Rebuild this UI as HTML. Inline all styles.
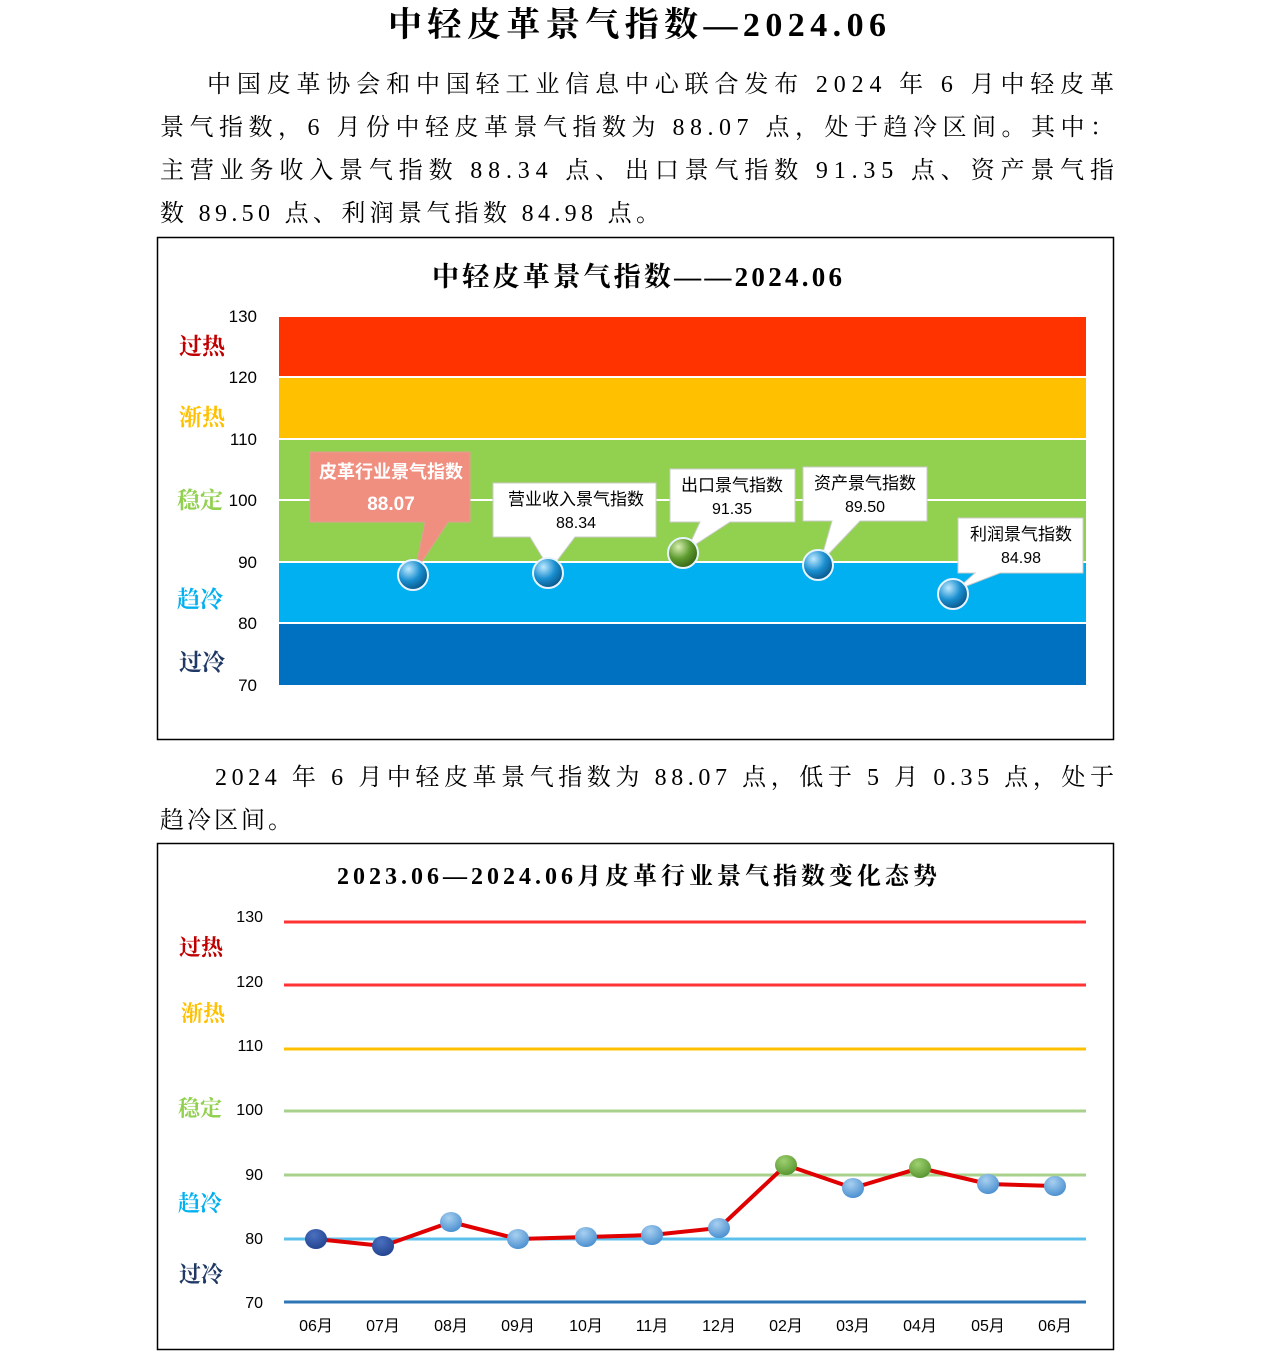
<!DOCTYPE html>
<html><head><meta charset="utf-8"><style>
body{margin:0;background:#fff}
svg text{font-family:"Liberation Serif","Noto Serif CJK SC",serif}
svg .s text, svg text.s{font-family:"Liberation Sans","Noto Sans CJK SC",sans-serif}
</style></head><body>
<svg width="1274" height="1360" xmlns="http://www.w3.org/2000/svg">
<defs>
<radialGradient id="bb" cx="0.35" cy="0.3" r="0.8"><stop offset="0" stop-color="#bfe9ff"/><stop offset="0.5" stop-color="#1a8fd0"/><stop offset="1" stop-color="#064a7a"/></radialGradient>
<radialGradient id="gb" cx="0.35" cy="0.3" r="0.8"><stop offset="0" stop-color="#d8f0b0"/><stop offset="0.5" stop-color="#5d9a2e"/><stop offset="1" stop-color="#2d5a10"/></radialGradient>
<radialGradient id="lb" cx="0.4" cy="0.3" r="0.8"><stop offset="0" stop-color="#a8d0f0"/><stop offset="1" stop-color="#3f88cc"/></radialGradient>
<radialGradient id="db" cx="0.4" cy="0.3" r="0.8"><stop offset="0" stop-color="#4a70c0"/><stop offset="1" stop-color="#1f3f8a"/></radialGradient>
<radialGradient id="gg" cx="0.4" cy="0.3" r="0.8"><stop offset="0" stop-color="#9fd070"/><stop offset="1" stop-color="#4f8f2a"/></radialGradient>
</defs>
<text x="637" y="36" text-anchor="middle" font-size="34" font-weight="bold" textLength="498">中轻皮革景气指数—2024.06</text>
<g font-size="24">
<text x="207" y="92" textLength="907">中国皮革协会和中国轻工业信息中心联合发布 2024 年 6 月中轻皮革</text>
<text x="160" y="135" textLength="954">景气指数，6 月份中轻皮革景气指数为 88.07 点，处于趋冷区间。其中：</text>
<text x="160" y="178" textLength="954">主营业务收入景气指数 88.34 点、出口景气指数 91.35 点、资产景气指</text>
<text x="160" y="221" textLength="500">数 89.50 点、利润景气指数 84.98 点。</text>
<text x="215" y="785" textLength="899">2024 年 6 月中轻皮革景气指数为 88.07 点，低于 5 月 0.35 点，处于</text>
<text x="160" y="828" textLength="132">趋冷区间。</text>
</g>
<!-- chart 1 -->
<rect x="157.5" y="237.5" width="956" height="502" fill="#fff" stroke="#000" stroke-width="1.5"/>
<text x="637" y="286" text-anchor="middle" font-size="27" font-weight="bold" textLength="410">中轻皮革景气指数——2024.06</text>
<rect x="279" y="317" width="807" height="59" fill="#ff3300"/>
<rect x="279" y="378" width="807" height="60" fill="#ffc000"/>
<rect x="279" y="440" width="807" height="121" fill="#92d050"/>
<line x1="279" y1="500" x2="1086" y2="500" stroke="#fff" stroke-width="2"/>
<rect x="279" y="563" width="807" height="59" fill="#00b0f0"/>
<rect x="279" y="624" width="807" height="61" fill="#0070c0"/>
<g class="s" font-size="17" text-anchor="end" fill="#000">
<text x="257" y="322">130</text><text x="257" y="383">120</text><text x="257" y="445">110</text><text x="257" y="506">100</text><text x="257" y="568">90</text><text x="257" y="629">80</text><text x="257" y="691">70</text></g>
<g font-size="23" font-weight="bold">
<text x="179" y="354" fill="#c00000">过热</text><text x="179" y="425" fill="#ffc000">渐热</text><text x="177" y="508" fill="#92d050">稳定</text><text x="177" y="607" fill="#00b0f0">趋冷</text><text x="179" y="670" fill="#1f3864">过冷</text></g>
<!-- callouts -->
<path d="M310 452 H470 V522 H448 L415 572 L425 522 H310 Z" fill="#f08f80" stroke="#e0a090"/>
<text class="s" x="391" y="478" text-anchor="middle" font-size="18" font-weight="bold" fill="#fff">皮革行业景气指数</text>
<text class="s" x="391" y="510" text-anchor="middle" font-size="19" font-weight="bold" fill="#fff">88.07</text>
<path d="M493 483 H656 V537 H575 L550 570 L530 537 H493 Z" fill="#fff" stroke="#ccc"/>
<text class="s" x="576" y="505" text-anchor="middle" font-size="17">营业收入景气指数</text>
<text class="s" x="576" y="528" text-anchor="middle" font-size="16">88.34</text>
<path d="M670 469 H795 V522 H730 L687 550 L700 522 H670 Z" fill="#fff" stroke="#ccc"/>
<text class="s" x="732" y="491" text-anchor="middle" font-size="17">出口景气指数</text>
<text class="s" x="732" y="514" text-anchor="middle" font-size="16">91.35</text>
<path d="M803 467 H927 V521 H860 L820 563 L832 521 H803 Z" fill="#fff" stroke="#ccc"/>
<text class="s" x="865" y="489" text-anchor="middle" font-size="17">资产景气指数</text>
<text class="s" x="865" y="512" text-anchor="middle" font-size="16">89.50</text>
<path d="M958 518 H1083 V573 H1000 L956 590 L975 573 H958 Z" fill="#fff" stroke="#ccc"/>
<text class="s" x="1021" y="540" text-anchor="middle" font-size="17">利润景气指数</text>
<text class="s" x="1021" y="563" text-anchor="middle" font-size="16">84.98</text>
<g stroke="#e8f4ff" stroke-width="2">
<circle cx="413" cy="575" r="15" fill="url(#bb)"/><circle cx="548" cy="573" r="15" fill="url(#bb)"/><circle cx="683" cy="553" r="15" fill="url(#gb)"/><circle cx="818" cy="565" r="15" fill="url(#bb)"/><circle cx="953" cy="594" r="15" fill="url(#bb)"/></g>
<!-- chart 2 -->
<rect x="157.5" y="843.5" width="956" height="506" fill="#fff" stroke="#000" stroke-width="1.5"/>
<text x="637" y="884" text-anchor="middle" font-size="24" font-weight="bold" textLength="600">2023.06—2024.06月皮革行业景气指数变化态势</text>
<g stroke-width="3">
<line x1="284" y1="922" x2="1086" y2="922" stroke="#ff3333"/>
<line x1="284" y1="985" x2="1086" y2="985" stroke="#ff3333"/>
<line x1="284" y1="1049" x2="1086" y2="1049" stroke="#ffc000"/>
<line x1="284" y1="1111" x2="1086" y2="1111" stroke="#a9d18e"/>
<line x1="284" y1="1175" x2="1086" y2="1175" stroke="#a9d18e"/>
<line x1="284" y1="1239" x2="1086" y2="1239" stroke="#5bc0eb"/>
<line x1="284" y1="1302" x2="1086" y2="1302" stroke="#2e75b6"/></g>
<g class="s" font-size="16" text-anchor="end">
<text x="263" y="922">130</text><text x="263" y="987">120</text><text x="263" y="1051">110</text><text x="263" y="1115">100</text><text x="263" y="1180">90</text><text x="263" y="1244">80</text><text x="263" y="1308">70</text></g>
<g font-size="22" font-weight="bold">
<text x="179" y="955" fill="#c00000">过热</text><text x="181" y="1021" fill="#ffc000">渐热</text><text x="178" y="1116" fill="#92d050">稳定</text><text x="178" y="1211" fill="#00b0f0">趋冷</text><text x="179" y="1282" fill="#1f3864">过冷</text></g>
<polyline points="316,1239 383,1246 451,1222 518,1239 586,1237 652,1235 719,1228 786,1165 853,1188 920,1168 988,1184 1055,1186" fill="none" stroke="#e00000" stroke-width="4"/>
<g>
<ellipse cx="316" cy="1239" rx="11" ry="10" fill="url(#db)"/><ellipse cx="383" cy="1246" rx="11" ry="10" fill="url(#db)"/>
<ellipse cx="451" cy="1222" rx="11" ry="10" fill="url(#lb)"/><ellipse cx="518" cy="1239" rx="11" ry="10" fill="url(#lb)"/>
<ellipse cx="586" cy="1237" rx="11" ry="10" fill="url(#lb)"/><ellipse cx="652" cy="1235" rx="11" ry="10" fill="url(#lb)"/>
<ellipse cx="719" cy="1228" rx="11" ry="10" fill="url(#lb)"/><ellipse cx="786" cy="1165" rx="11" ry="10" fill="url(#gg)"/>
<ellipse cx="853" cy="1188" rx="11" ry="10" fill="url(#lb)"/><ellipse cx="920" cy="1168" rx="11" ry="10" fill="url(#gg)"/>
<ellipse cx="988" cy="1184" rx="11" ry="10" fill="url(#lb)"/><ellipse cx="1055" cy="1186" rx="11" ry="10" fill="url(#lb)"/></g>
<g class="s" font-size="16" text-anchor="middle">
<text x="316" y="1331">06月</text><text x="383" y="1331">07月</text><text x="451" y="1331">08月</text><text x="518" y="1331">09月</text><text x="586" y="1331">10月</text><text x="652" y="1331">11月</text><text x="719" y="1331">12月</text><text x="786" y="1331">02月</text><text x="853" y="1331">03月</text><text x="920" y="1331">04月</text><text x="988" y="1331">05月</text><text x="1055" y="1331">06月</text></g>
</svg>
</body></html>
